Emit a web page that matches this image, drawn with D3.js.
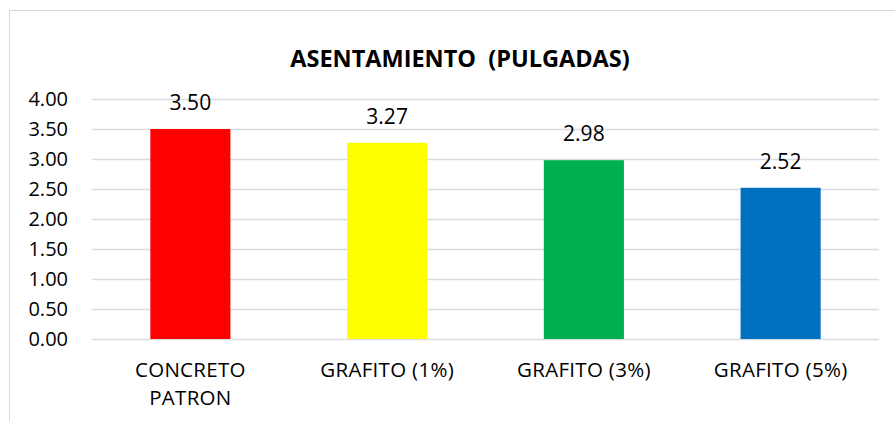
<!DOCTYPE html>
<html>
<head>
<meta charset="utf-8">
<script src="https://cdn.jsdelivr.net/npm/d3@7"></script>
<style>
  body { margin: 0; background: #fff; }
  text { font-family: "Open Sans", "Liberation Sans", sans-serif; fill: #000; }
</style>
</head>
<body>
<div id="chart"></div>
<script>
// data
var categories = [["CONCRETO", "PATRON"], ["GRAFITO (1%)"], ["GRAFITO (3%)"], ["GRAFITO (5%)"]];
var values = [3.50, 3.27, 2.98, 2.52];
var barColors = ["#FF0000", "#FFFF00", "#00B050", "#0070C0"];
var yTicks = [0, 0.5, 1, 1.5, 2, 2.5, 3, 3.5, 4];

var svgWidth = 895;
var svgHeight = 421;

var margin = { top: 99, right: 16, bottom: 82, left: 92 };
var width = 879 - margin.left;
var height = 339 - margin.top;

var svg = d3.select("#chart")
  .append("svg")
  .attr("width", svgWidth)
  .attr("height", svgHeight);

// outer chart border
svg.append("rect")
  .attr("x", 9.5)
  .attr("y", 10.5)
  .attr("width", 900)
  .attr("height", 420)
  .attr("fill", "none")
  .attr("stroke", "#D9D9D9");

var chartGroup = svg.append("g")
  .attr("transform", `translate(${margin.left}, ${margin.top})`);

var x = d3.scaleBand()
  .domain(d3.range(values.length))
  .range([0, width])
  .paddingInner(0.593)
  .paddingOuter(0.2965);

var y = d3.scaleLinear()
  .domain([0, 4])
  .range([height, 0]);

// gridlines
chartGroup.selectAll(".grid")
  .data(yTicks)
  .enter()
  .append("line")
  .attr("x1", 0)
  .attr("x2", width)
  .attr("y1", d => y(d) + 0.5)
  .attr("y2", d => y(d) + 0.5)
  .attr("stroke", "#D9DCE1")
  .attr("stroke-width", 1.5);

// y axis labels
var leftAxis = d3.axisLeft(y).tickValues(yTicks).tickFormat(d3.format(".2f")).tickSize(0).tickPadding(24);
var yAxis = chartGroup.append("g").call(leftAxis);
yAxis.select(".domain").remove();
yAxis.selectAll("text")
  .style("font-size", "20px")
  .style("font-family", "'Open Sans', sans-serif")
  .attr("fill", "#000");

// bars
chartGroup.selectAll(".bar")
  .data(values)
  .enter()
  .append("rect")
  .attr("x", (d, i) => x(i))
  .attr("y", d => y(d))
  .attr("width", x.bandwidth())
  .attr("height", d => height - y(d))
  .attr("fill", (d, i) => barColors[i]);

// value labels
chartGroup.selectAll(".val")
  .data(values)
  .enter()
  .append("text")
  .attr("x", (d, i) => x(i) + x.bandwidth() / 2)
  .attr("y", d => y(d) - 19)
  .attr("text-anchor", "middle")
  .style("font-size", "21px")
  .text(d => d.toFixed(2));

// category labels
var cat = chartGroup.selectAll(".cat")
  .data(categories)
  .enter()
  .append("text")
  .attr("x", (d, i) => x(i) + x.bandwidth() / 2)
  .attr("y", height + 38)
  .attr("text-anchor", "middle")
  .style("font-size", "20.5px")
  .style("letter-spacing", "0.3px");
cat.selectAll("tspan")
  .data(d => d)
  .enter()
  .append("tspan")
  .attr("x", function() { return d3.select(this.parentNode).attr("x"); })
  .attr("dy", (d, i) => i === 0 ? 0 : 28)
  .text(d => d);

// title
svg.append("text")
  .attr("x", 460)
  .attr("y", 67)
  .attr("text-anchor", "middle")
  .style("font-size", "23.5px")
  .style("font-weight", "bold")
  .style("white-space", "pre")
  .text("ASENTAMIENTO  (PULGADAS)");
</script>
</body>
</html>
